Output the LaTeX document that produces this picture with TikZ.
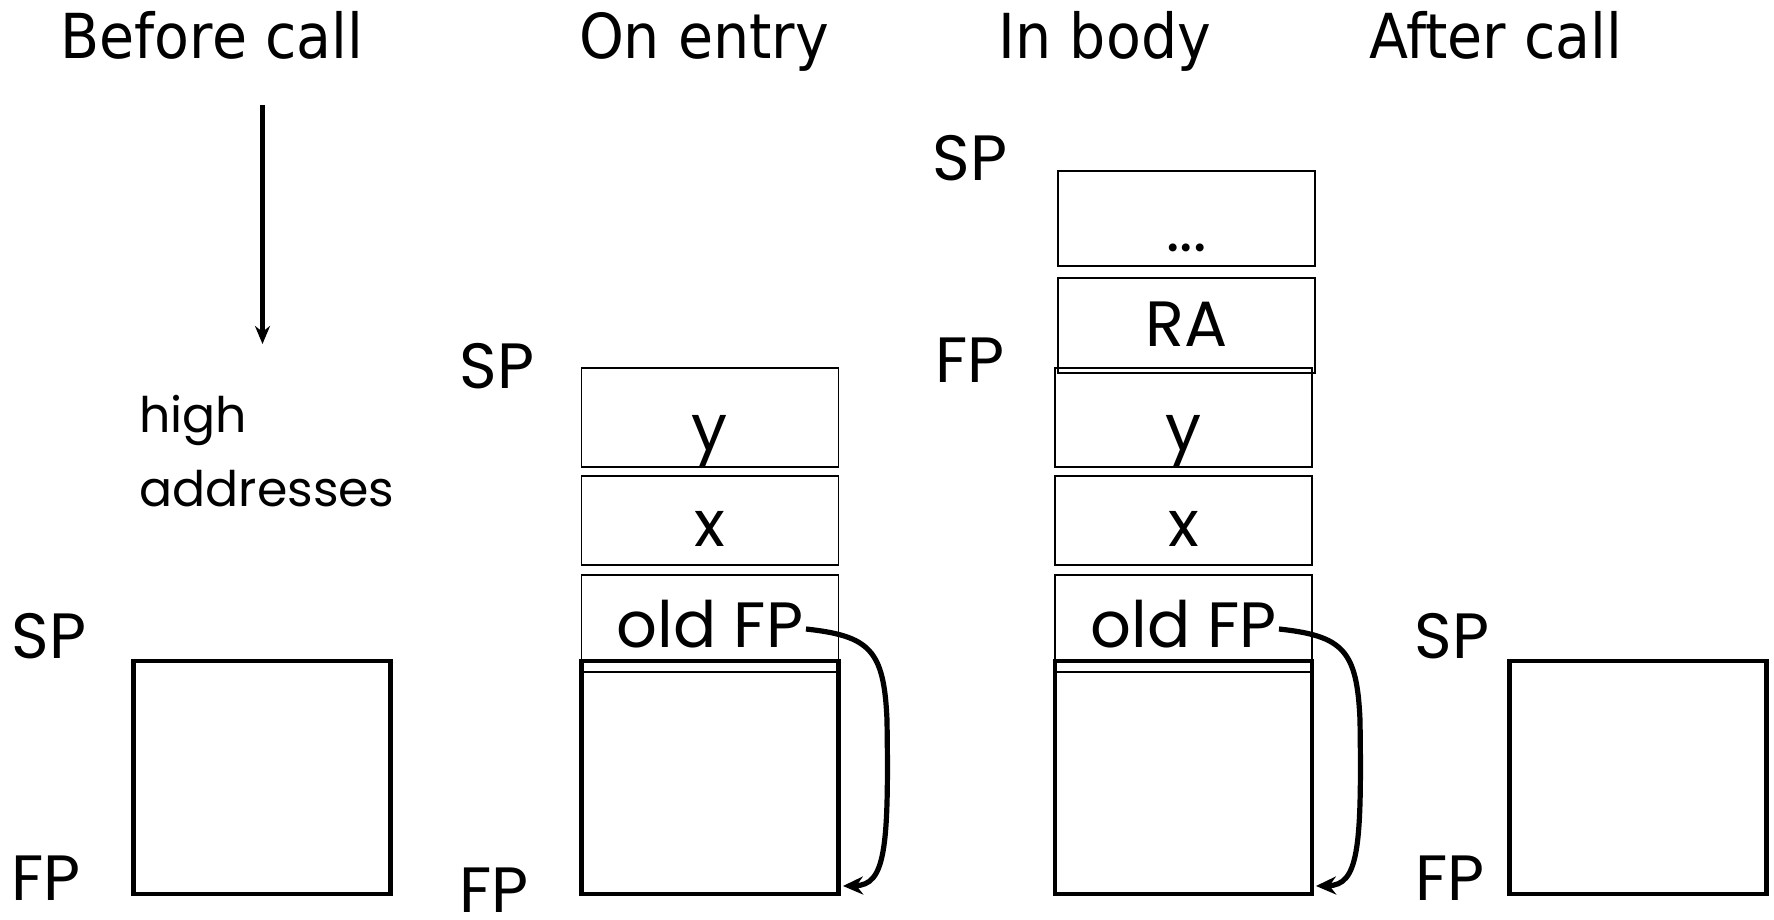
\documentclass[tikz,border=0pt]{standalone}
\usepackage{fontspec}
\setmainfont{Poppins}
\newfontfamily\titlefont[FakeStretch=0.92]{DejaVu Sans}
\usetikzlibrary{arrows.meta}
\begin{document}
\begin{tikzpicture}[x=0.5pt,y=-0.5pt,
  title/.style={font=\titlefont\fontsize{31}{31}\selectfont, anchor=base, inner sep=0},
  lbl/.style={font=\fontsize{32}{32}\selectfont, anchor=base, inner sep=0},
  cell/.style={draw, line width=0.8pt, inner sep=0, minimum width=128.5pt},
  frame/.style={draw, line width=2.3pt, inner sep=0, minimum width=128.5pt},
  link/.style={line width=2.6pt, -{Stealth[length=10pt,width=9pt]}},
  dir/.style={line width=2.4pt, -{Stealth[length=9pt,width=7.5pt]}}]
\useasboundingbox (0,0) rectangle (1774,920);
% titles
\node[title] (t1) at (212,59) {Before call};
\node[title] (t2) at (704,59) {On entry};
\node[title] (t3) at (1105,59) {In body};
\node[title] (t4) at (1496,59) {After call};
% before call
\coordinate (atop) at (262.5,105);
\coordinate (abot) at (262.5,344);
\draw[dir] (atop) -- (abot);
\node[font=\fontsize{24.5}{37}\selectfont, anchor=base west, align=left, inner sep=0] (high) at (139,506) {high\\addresses};
\node[frame, minimum height=116.5pt] (b1) at (262,777.5) {};
\node[lbl] (sp1) at (49,658) {SP};
\node[lbl] (fp1) at (46,900) {FP};
% on entry
\node[cell, minimum height=49.5pt] (ey) at (710,417.5) {};
\node[cell, minimum height=44.5pt] (ex) at (710,520.5) {};
\node[cell, minimum height=48.5pt] (eo) at (710,623.5) {};
\node[frame, minimum height=116.5pt] (eb) at (710,777.5) {};
\node[lbl] (eyl) at (710,450) {y};
\node[lbl] (exl) at (710,546) {x};
\node[lbl] (eol) at (710,647) {old FP};
\node[lbl] (sp2) at (497,388) {SP};
\node[lbl] (fp2) at (494,912) {FP};
\coordinate (e1) at (806,629);
\coordinate (e2) at (843,886);
\draw[link] (e1) .. controls (870,636) and (884,650) .. (887,720) .. controls (889,850) and (885,885) .. (e2);
% in body
\node[cell, minimum height=47.5pt] (bd) at (1186.5,218.5) {};
\node[cell, minimum height=47.5pt] (bra) at (1186.5,325.5) {};
\node[cell, minimum height=49.5pt] (by) at (1183.5,417.5) {};
\node[cell, minimum height=44.5pt] (bx) at (1183.5,520.5) {};
\node[cell, minimum height=48.5pt] (bo) at (1183.5,623.5) {};
\node[frame, minimum height=116.5pt] (bb) at (1183.5,777.5) {};
\node[lbl] (bdl) at (1186.5,251) {...};
\node[lbl] (bral) at (1186.5,346) {RA};
\node[lbl] (byl) at (1183.5,450) {y};
\node[lbl] (bxl) at (1183.5,546) {x};
\node[lbl] (bol) at (1183.5,647) {old FP};
\node[lbl] (sp3) at (970,181) {SP};
\node[lbl] (fp3) at (970,382) {FP};
\coordinate (g1) at (1279,629);
\coordinate (g2) at (1316,886);
\draw[link] (g1) .. controls (1343,636) and (1357,650) .. (1360,720) .. controls (1362,850) and (1358,885) .. (g2);
% after call
\node[frame, minimum height=116.5pt] (ab) at (1638,777.5) {};
\node[lbl] (sp4) at (1452,658) {SP};
\node[lbl] (fp4) at (1450,900) {FP};
\end{tikzpicture}
\end{document}
